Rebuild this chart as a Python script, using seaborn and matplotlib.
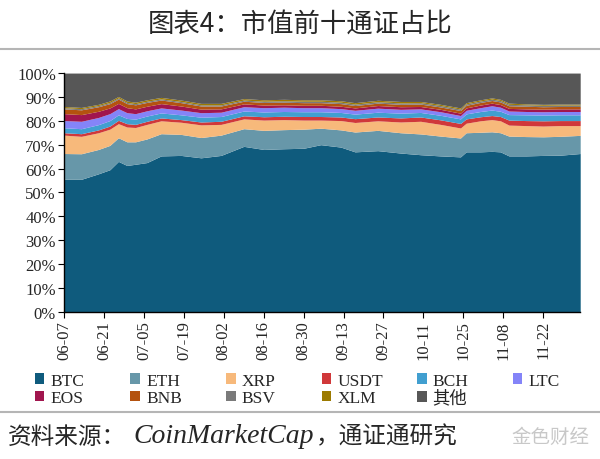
import numpy as np
import pandas as pd
import matplotlib
matplotlib.use('Agg')
import matplotlib.pyplot as plt
import matplotlib.dates as mdates
from matplotlib.lines import Line2D
from matplotlib.ticker import PercentFormatter
import seaborn as sns

# sampled dates (2019) and market share of each coin, in %
dates = ['06-07', '06-13', '06-19', '06-23', '06-26', '06-29', '07-02', '07-06',
         '07-11', '07-18', '07-25', '08-01', '08-09', '08-16', '08-23', '08-30',
         '09-05', '09-12', '09-17', '09-25', '10-03', '10-10', '10-17', '10-24',
         '10-26', '10-31', '11-04', '11-07', '11-10', '11-16', '11-22', '11-28', '12-05']

btc = [55.5, 55.5, 57.8, 59.5, 63.0, 61.3, 61.8, 62.5, 65.3, 65.5, 64.5, 65.5, 69.3, 68.0, 68.3, 68.5,
       70.0, 69.0, 67.0, 67.5, 66.5, 65.8, 65.3, 64.9, 67.0, 67.0, 67.2, 67.0, 65.3, 65.3, 65.5, 65.6, 66.3]
eth = [10.8, 10.7, 10.2, 10.2, 9.9, 9.9, 9.4, 9.9, 9.3, 8.8, 8.5, 8.5, 7.4, 8.0, 8.0, 8.0,
       6.9, 7.2, 8.3, 8.5, 8.5, 8.7, 8.3, 7.9, 8.0, 8.2, 8.2, 8.0, 8.3, 8.1, 7.8, 7.9, 7.6]
xrp = [7.7, 7.3, 7.0, 6.8, 5.9, 6.2, 6.0, 6.1, 5.4, 5.1, 5.3, 4.5, 4.1, 4.3, 4.2, 3.8,
       3.4, 3.9, 4.0, 4.0, 4.5, 5.3, 4.9, 4.2, 4.0, 4.8, 5.1, 5.0, 4.6, 4.6, 4.5, 4.5, 4.1]
usdt = [1.0, 1.1, 1.2, 1.3, 1.4, 1.4, 1.3, 1.3, 1.2, 1.1, 1.2, 1.3, 1.3, 1.4, 1.4, 1.5,
        1.5, 1.5, 1.6, 1.6, 1.7, 1.8, 1.9, 1.9, 1.8, 1.7, 1.7, 1.8, 2.1, 2.1, 2.2, 2.1, 2.1]
bch = [2.1, 2.1, 2.2, 2.3, 2.3, 2.2, 2.2, 2.2, 2.1, 2.0, 2.0, 2.0, 2.0, 2.0, 2.0, 2.0,
       2.0, 1.9, 1.9, 2.0, 2.0, 1.9, 1.9, 1.9, 2.1, 2.2, 2.3, 2.2, 2.3, 2.4, 2.4, 2.4, 2.4]
ltc = [3.0, 3.1, 3.0, 2.9, 2.6, 2.4, 2.3, 2.2, 2.1, 2.0, 1.9, 1.8, 1.8, 1.8, 1.8, 1.7,
       1.7, 1.6, 1.6, 1.7, 1.6, 1.5, 1.5, 1.4, 1.5, 1.6, 1.8, 1.7, 1.5, 1.4, 1.4, 1.4, 1.4]
eos = [2.9, 2.8, 2.6, 2.4, 2.2, 2.1, 2.0, 1.9, 1.8, 1.7, 1.5, 1.4, 1.2, 1.1, 1.0, 1.0,
       1.0, 1.0, 1.0, 1.1, 1.1, 1.0, 1.0, 1.0, 1.0, 1.1, 1.1, 1.1, 1.1, 1.1, 1.1, 1.1, 1.1]
bnb = [2.0, 2.0, 1.9, 1.8, 1.8, 1.7, 1.7, 1.6, 1.5, 1.4, 1.3, 1.2, 1.1, 1.1, 1.1, 1.1,
       1.1, 1.1, 1.0, 1.0, 1.0, 1.0, 1.0, 1.1, 1.1, 1.1, 1.1, 1.1, 1.1, 1.1, 1.0, 1.0, 1.0]
bsv = [0.5, 0.5, 0.5, 0.5, 0.5, 0.5, 0.5, 0.5, 0.5, 0.5, 0.5, 0.5, 0.5, 0.5, 0.6, 0.6,
       0.6, 0.6, 0.6, 0.6, 0.6, 0.6, 0.6, 0.6, 0.6, 0.6, 0.6, 0.6, 0.6, 0.6, 0.6, 0.6, 0.6]
xlm = [0.5, 0.5, 0.5, 0.6, 0.6, 0.6, 0.6, 0.6, 0.6, 0.6, 0.6, 0.6, 0.6, 0.6, 0.6, 0.6,
       0.6, 0.6, 0.6, 0.6, 0.6, 0.5, 0.5, 0.5, 0.5, 0.5, 0.5, 0.5, 0.5, 0.4, 0.4, 0.4, 0.4]

names = ['BTC', 'ETH', 'XRP', 'USDT', 'BCH', 'LTC', 'EOS', 'BNB', 'BSV', 'XLM', '其他']
colors = ['#0f5b7d', '#6797a9', '#f7b97b', '#d0383a', '#419fd0', '#8484f8',
          '#a1164e', '#b4520f', '#7a7a7a', '#9c7a00', '#575757']

df = pd.DataFrame({'BTC': btc, 'ETH': eth, 'XRP': xrp, 'USDT': usdt, 'BCH': bch, 'LTC': ltc,
                   'EOS': eos, 'BNB': bnb, 'BSV': bsv, 'XLM': xlm},
                  index=pd.to_datetime(['2019-' + d for d in dates]))
df['其他'] = 100 - df.sum(axis=1)

sns.set_style('ticks')
plt.rcParams['font.family'] = ['Liberation Serif', 'Noto Sans CJK SC']

fig = plt.figure(figsize=(6, 4.6), dpi=100)
ax = fig.add_axes([0.107, 0.320, 0.860, 0.519])

pal = sns.color_palette(colors)
polys = ax.stackplot(df.index, [df[n] / 100 for n in names], colors=pal, labels=names, linewidth=0)

ax.set_ylim(0, 1)
ax.set_xlim(pd.Timestamp('2019-06-07'), pd.Timestamp('2019-12-05'))
ax.yaxis.set_major_locator(plt.MultipleLocator(0.1))
ax.yaxis.set_major_formatter(PercentFormatter(1.0, decimals=0))
ax.set_xticks(pd.date_range('2019-06-07', '2019-11-22', freq='14D'))
ax.xaxis.set_major_formatter(mdates.DateFormatter('%m-%d'))
ax.tick_params(axis='x', labelrotation=90, labelsize=12, length=4, color='black', pad=2)
ax.tick_params(axis='y', labelsize=12, length=4, color='black', pad=2)
for s in ['top', 'right']:
    ax.spines[s].set_visible(False)
for s in ['left', 'bottom']:
    ax.spines[s].set_color('black')
    ax.spines[s].set_linewidth(1)

# legend laid out row by row, one small legend per column
for c in range(6):
    idx = [c, c + 6] if c + 6 < len(names) else [c]
    fig.legend([polys[i] for i in idx], [names[i] for i in idx], loc='upper left',
               bbox_to_anchor=(0.058 + c * 0.1593, 0.188), frameon=False, fontsize=12.5,
               handlelength=0.55, handleheight=0.55, handletextpad=0.35,
               labelspacing=0.08, borderpad=0, borderaxespad=0)

fig.text(0.5, 0.947, '图表4：市值前十通证占比', ha='center', va='center', fontsize=19,
         family=['Noto Sans CJK SC'])
fig.add_artist(Line2D([0, 1], [0.891, 0.891], color='#b5b5b5', lw=1.5))
fig.add_artist(Line2D([0, 1], [0.102, 0.102], color='#b5b5b5', lw=1.5))

# source line: CJK parts and the italic latin name
fig.text(0.013, 0.05, '资料来源：', ha='left', va='center', fontsize=17,
         family=['Noto Sans CJK SC'])
fig.text(0.222, 0.05, 'CoinMarketCap', ha='left', va='center', fontsize=20,
         style='italic', family=['Liberation Serif'])
fig.text(0.527, 0.05, '，通证通研究', ha='left', va='center', fontsize=17,
         family=['Noto Sans CJK SC'])
fig.text(0.982, 0.048, '金色财经', ha='right', va='center', fontsize=14,
         color='#c8c8c8', family=['Noto Sans CJK SC'])

fig.savefig('out.png', dpi=100)
